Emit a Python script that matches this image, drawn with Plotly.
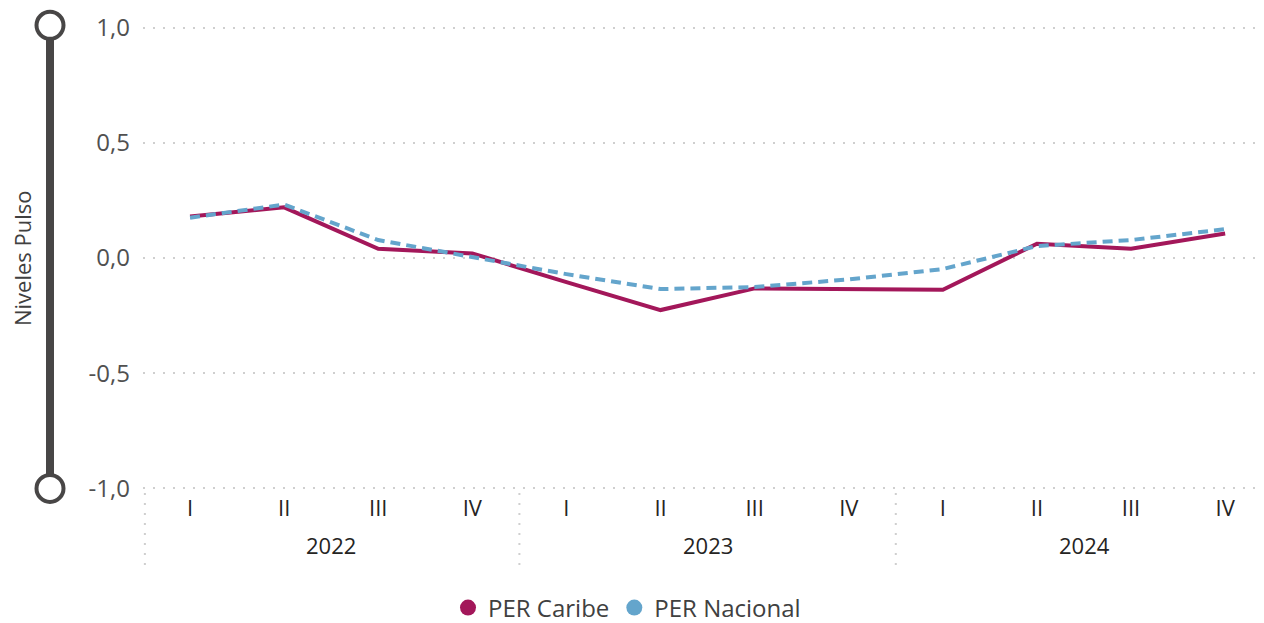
import plotly.graph_objects as go

# ---- data ----
years = ["2022", "2023", "2024"]
quarters = ["I", "II", "III", "IV"]
caribe = [0.18, 0.22, 0.04, 0.02, -0.105, -0.226, -0.132, -0.136, -0.138, 0.062, 0.04, 0.106]
nacional = [0.175, 0.232, 0.078, 0.004, -0.07, -0.135, -0.126, -0.093, -0.048, 0.052, 0.078, 0.125]
y_ticks = [-1.0, -0.5, 0.0, 0.5, 1.0]
series_names = ["PER Caribe", "PER Nacional"]
colors = ["#A3175A", "#64A5CC"]

# ---- derived ----
cats = [(y, q) for y in years for q in quarters]
xs = list(range(len(cats)))
qlabels = [q for _, q in cats]
nq = len(quarters)
y_ticktext = [f"{v:.1f}".replace(".", ",") for v in y_ticks]

OFF = 8  # page body margin
W, H = 1264 - OFF, 623 - OFF
ML, MT = 143 - OFF, 23 - OFF
plot_h = 470
plot_w = 1119
MB = H - MT - plot_h
MR = W - ML - plot_w
step = 94.1
x0 = -0.5
x1 = x0 + plot_w / step
yr = [-1.02, 1.02]

def ypaper(v):
    return (v - yr[0]) / (yr[1] - yr[0])

FONT = "Segoe UI, Open Sans, sans-serif"

fig = go.Figure()
fig.add_trace(go.Scatter(x=xs, y=caribe, mode="lines", name=series_names[0],
                         line=dict(color=colors[0], width=4), showlegend=False))
fig.add_trace(go.Scatter(x=xs, y=nacional, mode="lines", name=series_names[1],
                         line=dict(color=colors[1], width=4, dash="10px,6px"), showlegend=False))
# legend entries (circle markers)
for nm, c in zip(series_names, colors):
    fig.add_trace(go.Scatter(x=[None], y=[None], mode="markers", name=nm,
                             marker=dict(color=c, size=16), showlegend=True))

grid_col = "#cfcfcf"
fig.update_xaxes(range=[x0, x1], tickmode="array", tickvals=xs, ticktext=qlabels,
                 showgrid=False, zeroline=False, showline=False, ticks="",
                 tickfont=dict(family=FONT, size=22, color="#252423"))
fig.update_yaxes(range=yr, tickmode="array", tickvals=y_ticks, ticktext=y_ticktext,
                 showgrid=True, gridcolor=grid_col, gridwidth=2, griddash="2px,8px",
                 zeroline=False, showline=False, ticks="", ticklabelstandoff=12,
                 tickfont=dict(family=FONT, size=24, color="#505050"))

shapes = []
# year dividers (dotted)
for i in range(len(years)):
    xv = i * nq - 0.5 + (0.02 if i == 0 else 0)
    shapes.append(dict(type="line", xref="x", yref="paper", x0=xv, x1=xv,
                       y0=0, y1=-72 / plot_h,
                       line=dict(color=grid_col, width=2, dash="2px,8px")))
# left slider decoration
sx = (50 - 143) / plot_w
shapes.append(dict(type="line", xref="paper", yref="paper", x0=sx, x1=sx,
                   y0=ypaper(-1.0), y1=ypaper(1.01),
                   line=dict(color="#484646", width=8)))
for v in (1.01, -1.0):
    shapes.append(dict(type="circle", xref="paper", yref="paper",
                       xsizemode="pixel", ysizemode="pixel",
                       xanchor=sx, yanchor=ypaper(v),
                       x0=-13.5, x1=13.5, y0=-13.5, y1=13.5,
                       fillcolor="white", line=dict(color="#484646", width=4)))

annotations = []
for i, y in enumerate(years):
    annotations.append(dict(x=i * nq + (nq - 1) / 2, y=-52 / plot_h, xref="x", yref="paper",
                            text=y, showarrow=False, yanchor="middle",
                            font=dict(family=FONT, size=22, color="#252423")))
annotations.append(dict(x=(22 - 143) / plot_w, y=ypaper(0), xref="paper", yref="paper",
                        text="Niveles Pulso", textangle=-90, showarrow=False,
                        xanchor="center", yanchor="middle",
                        font=dict(family=FONT, size=22, color="#404040")))

fig.update_layout(
    width=W, height=H, autosize=False,
    margin=dict(l=ML, r=MR, t=MT, b=MB),
    paper_bgcolor="white", plot_bgcolor="white",
    shapes=shapes, annotations=annotations,
    legend=dict(orientation="h", xref="container", yref="container",
                x=(627 - OFF) / W, xanchor="center", y=(623 - 608) / H, yanchor="middle",
                font=dict(family=FONT, size=24, color="#404040"),
                itemclick=False, tracegroupgap=0),
)

fig.write_html("out.html")
